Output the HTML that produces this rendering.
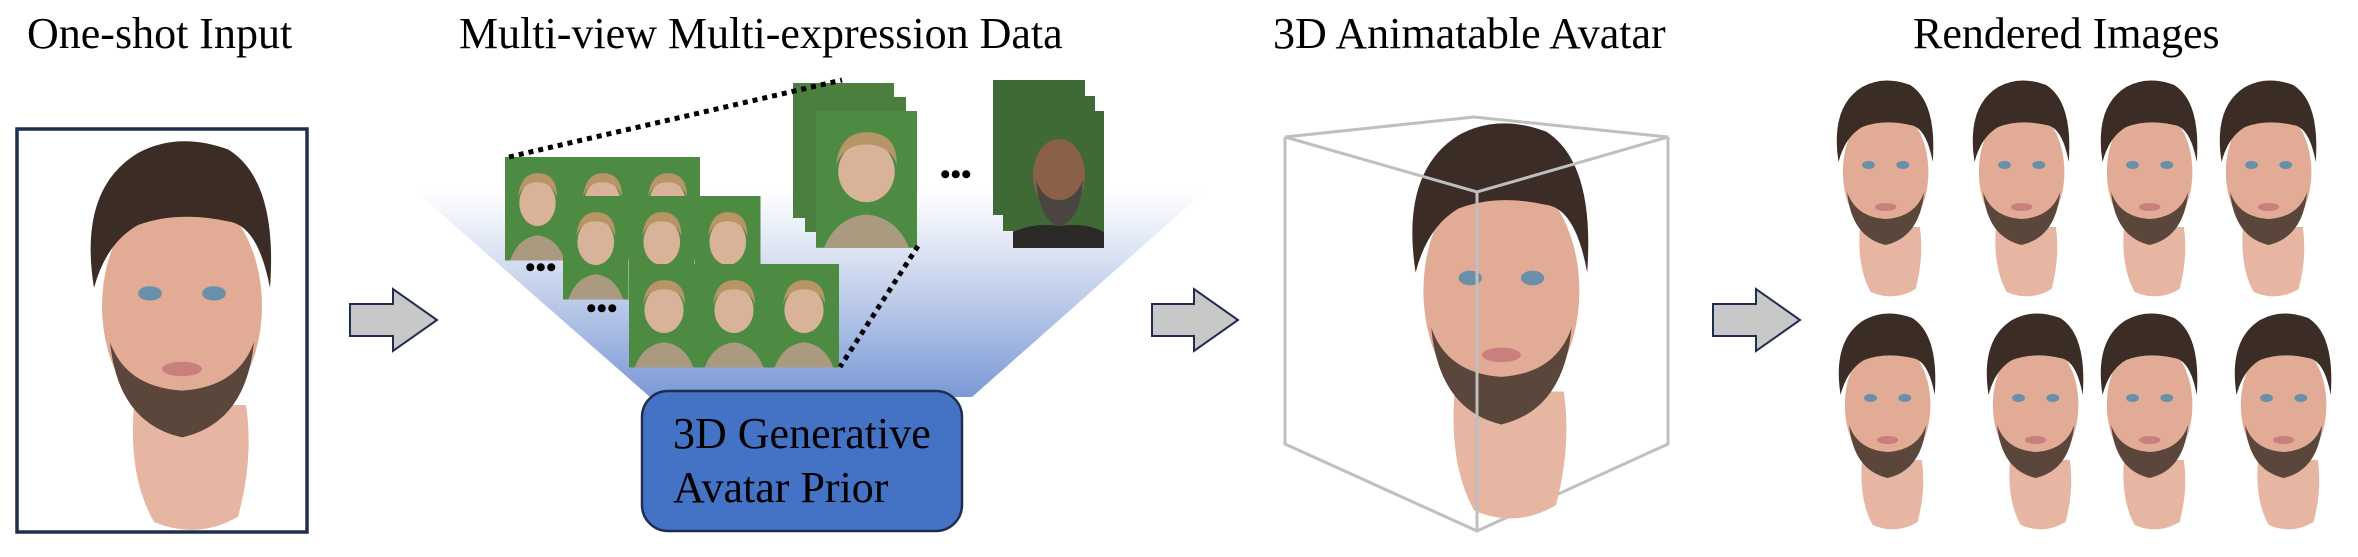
<!DOCTYPE html>
<html><head><meta charset="utf-8"><style>
html,body{margin:0;padding:0;background:#fff;width:2358px;height:557px;overflow:hidden}
svg{display:block}
text{font-family:"Liberation Serif",serif;fill:#000}
</style></head><body>
<svg width="2358" height="557" viewBox="0 0 2358 557" xmlns="http://www.w3.org/2000/svg">
<defs>
<linearGradient id="fg" x1="0" y1="0" x2="0" y2="1">
<stop offset="0" stop-color="#ffffff"/><stop offset="0.35" stop-color="#d6dff1"/><stop offset="1" stop-color="#7b99d6"/>
</linearGradient>
<g id="head">
 <path d="M28 150 Q25 190 38 215 Q60 225 80 212 Q88 180 84 150 Z" fill="#e7b6a3"/>
 <ellipse cx="52" cy="95" rx="40" ry="65" fill="#e2ab95"/>
 <path d="M16 115 Q20 160 52 168 Q84 160 88 115 Q80 140 52 142 Q24 140 16 115 Z" fill="#5a463a"/>
 <path d="M8 85 Q0 30 30 10 Q50 -2 75 8 Q100 25 96 85 Q90 50 75 48 Q50 42 30 50 Q14 60 8 85 Z" fill="#3b2d25"/>
 <ellipse cx="36" cy="88" rx="6" ry="4" fill="#6a8fa8"/><ellipse cx="68" cy="88" rx="6" ry="4" fill="#6a8fa8"/>
 <ellipse cx="52" cy="130" rx="10" ry="4" fill="#c97f7d"/>
</g>
<g id="thumb">
 <rect width="50" height="90" fill="#4d8a42"/>
 <ellipse cx="25" cy="40" rx="14" ry="20" fill="#d9b29a"/>
 <path d="M10 35 Q12 14 25 14 Q40 14 40 35 Q36 22 25 22 Q14 22 10 35Z" fill="#b79566"/>
 <path d="M4 90 Q10 70 25 68 Q40 70 46 90Z" fill="#a99a80"/>
</g>
</defs>

<!-- titles -->
<text x="27" y="48" font-size="44">One-shot Input</text>
<text x="459" y="48" font-size="44">Multi-view Multi-expression Data</text>
<text x="1273" y="48" font-size="44">3D Animatable Avatar</text>
<text x="1913" y="48" font-size="44">Rendered Images</text>

<!-- input box -->
<rect x="17" y="129" width="290" height="403" fill="#fff" stroke="#1f2d4f" stroke-width="3.5"/>
<use href="#head" transform="translate(78,135) scale(2.0,1.8)"/>

<!-- arrows -->
<g fill="#c8c8c8" stroke="#1f2d4f" stroke-width="2">
<path d="M350 304 L393 304 L393 289 L437 320 L393 351 L393 336 L350 336 Z"/>
<path d="M1152 304 L1194 304 L1194 289 L1238 320 L1194 351 L1194 336 L1152 336 Z"/>
<path d="M1713 304 L1756 304 L1756 289 L1800 320 L1756 351 L1756 336 L1713 336 Z"/>
</g>

<!-- funnel -->
<path d="M414 190 L1206 190 L972 397 L650 397 Z" fill="url(#fg)"/>

<!-- thumbnail grids -->
<g>
<use href="#thumb" transform="translate(505,157) scale(1.3,1.15)"/>
<use href="#thumb" transform="translate(570,157) scale(1.3,1.15)"/>
<use href="#thumb" transform="translate(635,157) scale(1.3,1.15)"/>
<use href="#thumb" transform="translate(563,196) scale(1.31,1.15)"/>
<use href="#thumb" transform="translate(629,196) scale(1.31,1.15)"/>
<use href="#thumb" transform="translate(695,196) scale(1.31,1.15)"/>
<use href="#thumb" transform="translate(629,264) scale(1.4,1.15)"/>
<use href="#thumb" transform="translate(699,264) scale(1.4,1.15)"/>
<use href="#thumb" transform="translate(769,264) scale(1.4,1.15)"/>
</g>
<rect x="793" y="83" width="101" height="135" fill="#4b7f3f"/>
<rect x="805" y="97" width="101" height="135" fill="#4b7f3f"/>
<use href="#thumb" transform="translate(816,111) scale(2.02,1.52)"/>
<rect x="993" y="80" width="92" height="135" fill="#3f6a35"/>
<rect x="1003" y="96" width="92" height="135" fill="#3f6a35"/>
<rect x="1013" y="111" width="91" height="137" fill="#3f6a35"/>
<ellipse cx="1059" cy="175" rx="26" ry="36" fill="#8a6048"/>
<path d="M1036 180 Q1040 222 1059 226 Q1080 222 1083 180 Q1075 200 1059 200 Q1043 200 1036 180Z" fill="#4a4540"/>
<path d="M1013 248 L1013 232 Q1035 222 1059 226 Q1085 222 1104 232 L1104 248Z" fill="#2c2a26"/>

<!-- dotted lines -->
<g stroke="#000" stroke-width="5" stroke-dasharray="5,5" fill="none">
<line x1="509" y1="157" x2="842" y2="80"/>
<line x1="918" y1="246" x2="840" y2="367"/>
</g>
<g font-size="30" font-weight="bold"><text x="525" y="277">•••</text><text x="586" y="318">•••</text><text x="940" y="184">•••</text></g>

<!-- prior box -->
<rect x="642" y="391" width="320" height="140" rx="26" fill="#4472c4" stroke="#1f2d4f" stroke-width="2.5"/>
<text x="673" y="448" font-size="44">3D Generative</text>
<text x="673" y="502" font-size="44">Avatar Prior</text>

<!-- cube -->
<g stroke="#bfbfbf" stroke-width="3" fill="none">
<path d="M1285 137 L1474 117 L1668 137"/>
<path d="M1285 137 L1285 444 L1477 531 L1668 444 L1668 137"/>
</g>
<use href="#head" transform="translate(1400,117) scale(1.95,1.83)"/>
<g stroke="#bfbfbf" stroke-width="3" fill="none">
<path d="M1285 137 L1477 192 L1668 137"/>
<line x1="1477" y1="192" x2="1477" y2="531"/>
</g>

<!-- rendered heads -->
<use href="#head" transform="translate(1830,77) scale(1.07,1.0)"/>
<use href="#head" transform="translate(1966,77) scale(1.07,1.0)"/>
<use href="#head" transform="translate(2094,77) scale(1.07,1.0)"/>
<use href="#head" transform="translate(2213,77) scale(1.07,1.0)"/>
<use href="#head" transform="translate(1832,310) scale(1.07,1.0)"/>
<use href="#head" transform="translate(1980,310) scale(1.07,1.0)"/>
<use href="#head" transform="translate(2094,310) scale(1.07,1.0)"/>
<use href="#head" transform="translate(2228,310) scale(1.07,1.0)"/>
</svg>
</body></html>
